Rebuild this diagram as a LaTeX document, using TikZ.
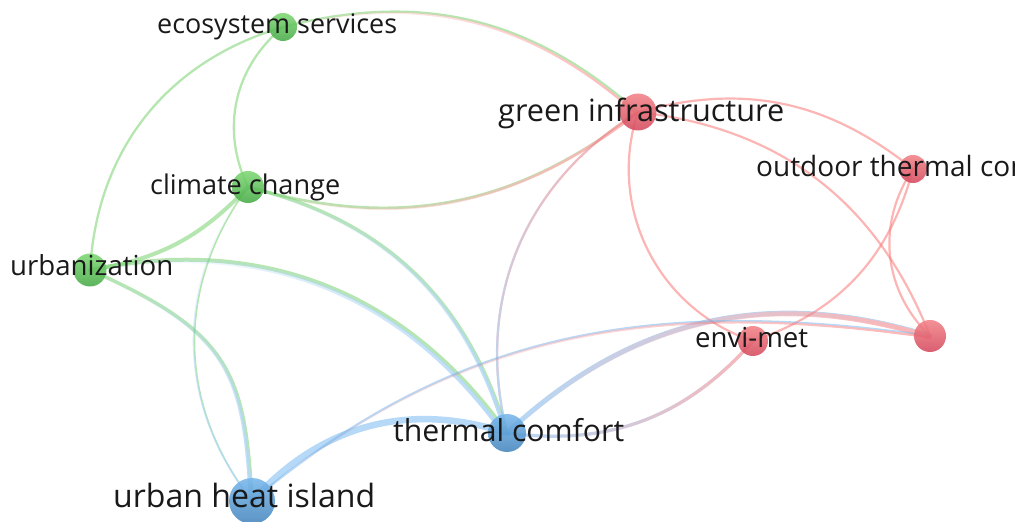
\documentclass[tikz,border=0pt]{standalone}
\usepackage{fontspec}
\setmainfont{Open Sans}
\usepackage{graphicx}
\usetikzlibrary{fadings}
\definecolor{eG}{RGB}{120,210,110}
\definecolor{eR}{RGB}{250,120,120}
\definecolor{eB}{RGB}{120,185,240}
\definecolor{gTop}{RGB}{125,215,115}
\definecolor{gBot}{RGB}{70,170,70}
\definecolor{rTop}{RGB}{242,130,135}
\definecolor{rBot}{RGB}{212,72,92}
\definecolor{bTop}{RGB}{118,182,235}
\definecolor{bBot}{RGB}{68,132,188}
\definecolor{txt}{RGB}{25,25,25}
% gradient edge: width, colour A, colour B, mid x, mid y, angle, scale, path
\newcommand\gedge[8]{%
  \begin{scope}[transparency group, opacity=0.55]
    \draw[line width=#1, draw=#2, line cap=round] #8;
    \draw[line width=#1, draw=#3, line cap=round, path fading=west, fit fading=false,
      fading transform={shift={(#4,#5)}, rotate=#6, scale=#7}] #8;
  \end{scope}}
\begin{document}
\begin{tikzpicture}[x=1pt,y=1pt,
  edge/.style={line width=#1, draw opacity=0.55, line cap=round},
  kw/.style={circle, inner sep=0pt, minimum size=#1, opacity=0.88},
  gnode/.style={kw=#1, top color=gTop, bottom color=gBot},
  rnode/.style={kw=#1, top color=rTop, bottom color=rBot},
  bnode/.style={kw=#1, top color=bTop, bottom color=bBot},
  lbl/.style={inner sep=0pt, anchor=base west, text=txt}]
\useasboundingbox (0,0) rectangle (1015,522);
\clip (0,0) rectangle (1015,522);
% node positions
\coordinate (es) at (283,495);
\coordinate (cc) at (248,335);
\coordinate (urb) at (90,252);
\coordinate (gi) at (638,410);
\coordinate (otc) at (913,353);
\coordinate (un) at (930,186);
\coordinate (em) at (753,181);
\coordinate (tc) at (507,89);
\coordinate (uhi) at (252,21);
% edges within a cluster
\draw[edge=2.3pt, eG] (es) to[bend right=38] (cc);
\draw[edge=2.3pt, eG] (es) to[bend right=35] (urb);
\draw[edge=4pt, eG] (cc) to[bend left=19] (urb);
\draw[edge=2.2pt, eR] (gi) to[bend right=45] (em);
\draw[edge=2.2pt, eR] (gi) to[bend left=27] (otc);
\draw[edge=2.2pt, eR] (gi) to[bend left=31] (un);
\draw[edge=2.2pt, eR] (otc) to[bend left=28] (em);
\draw[edge=2.2pt, eR] (otc) to[bend right=40] (un);
\draw[edge=6.5pt, eB] (uhi) to[bend left=33] (tc);
% edges between clusters (colour gradient)
\gedge{2.3pt}{eG}{eR}{460.5}{452.5}{-13.5}{7.3}{(es) to[bend left=28] (gi)}
\gedge{2.7pt}{eG}{eR}{443}{372.5}{10.9}{7.9}{(cc) to[bend right=27] (gi)}
\gedge{3.5pt}{eG}{eB}{377.5}{212}{-43.5}{7.1}{(cc) to[bend left=30] (tc)}
\gedge{1.6pt}{eG}{eB}{250}{178}{-89.3}{6.3}{(cc) to[bend right=37] (uhi)}
\gedge{4pt}{eG}{eB}{298.5}{170.5}{-21.3}{9}{(urb) to[bend left=33] (tc)}
\gedge{3.5pt}{eG}{eB}{171}{136.5}{-54.9}{5.6}{(urb) .. controls (230,190) and (245,150) .. (uhi)}
\gedge{2.2pt}{eR}{eB}{572.5}{249.5}{-112.2}{6.9}{(gi) to[bend right=36] (tc)}
\gedge{5pt}{eB}{eR}{718.5}{137.5}{12.9}{8.7}{(tc) to[bend left=30] (un)}
\gedge{2.2pt}{eB}{eR}{591}{103.5}{13.7}{14}{(uhi) to[out=40, in=172] (un)}
\gedge{3.2pt}{eB}{eR}{630}{135}{20.5}{5.3}{(tc) to[bend right=28] (em)}
% nodes
\node[gnode=28pt] (esN) at (es) {};
\node[gnode=32pt] (ccN) at (cc) {};
\node[gnode=33pt] (urbN) at (urb) {};
\node[rnode=37pt] (giN) at (gi) {};
\node[rnode=28pt] (otcN) at (otc) {};
\node[rnode=32pt] (unN) at (un) {};
\node[rnode=30pt] (emN) at (em) {};
\node[bnode=38pt] (tcN) at (tc) {};
\node[bnode=46pt] (uhiN) at (uhi) {};
% labels
\node[lbl] (esL) at (157,488) {\resizebox{240pt}{!}{ecosystem services}};
\node[lbl] (ccL) at (150,327) {\resizebox{190pt}{!}{climate change}};
\node[lbl] (urbL) at (10,246) {\resizebox{163pt}{!}{urbanization}};
\node[lbl] (giL) at (498,400) {\resizebox{286pt}{!}{green infrastructure}};
\node[lbl] (otcL) at (756,345) {\fontsize{28}{30}\selectfont outdoor thermal comfort};
\node[lbl] (emL) at (695,174) {\resizebox{113pt}{!}{envi-met}};
\node[lbl] (tcL) at (393,80) {\resizebox{231pt}{!}{thermal comfort}};
\node[lbl] (uhiL) at (113,14) {\resizebox{262pt}{!}{urban heat island}};
\end{tikzpicture}
\end{document}
